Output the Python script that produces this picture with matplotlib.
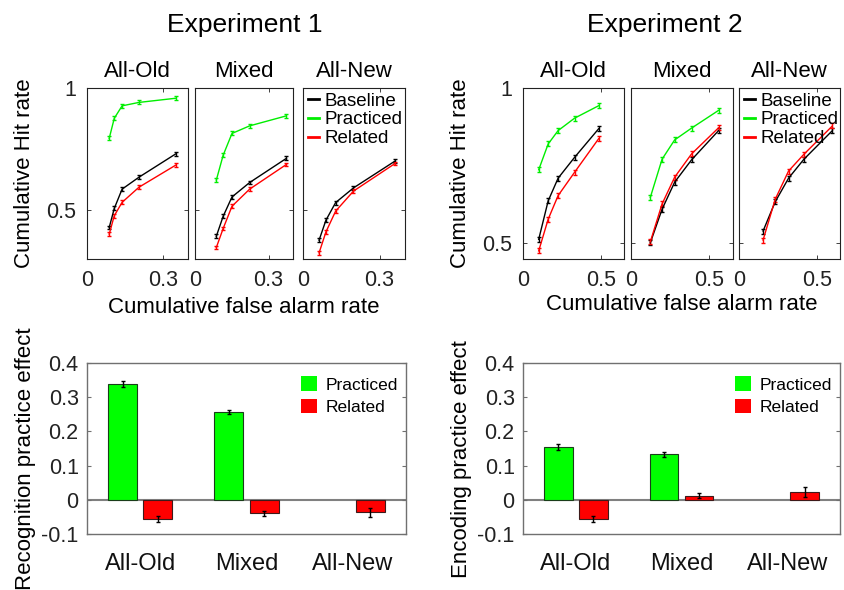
import numpy as np
import matplotlib.pyplot as plt
from matplotlib.patches import Patch
from matplotlib.lines import Line2D

plt.rcParams['font.family'] = ['Liberation Sans', 'DejaVu Sans']

W, H = 844, 590

conds = ['All-Old', 'Mixed', 'All-New']
GREEN = '#00ee00'
RED = '#ff0000'

# ---- Experiment 1 ROC data (cumulative FA, cumulative hit) ----
e1_fa = {
    'All-Old': [0.088, 0.108, 0.139, 0.206, 0.351],
    'Mixed':   [0.087, 0.115, 0.151, 0.223, 0.373],
    'All-New': [0.063, 0.090, 0.128, 0.198, 0.361],
}
e1_base = {
    'All-Old': [0.429, 0.507, 0.586, 0.635, 0.730],
    'Mixed':   [0.393, 0.475, 0.554, 0.613, 0.712],
    'All-New': [0.377, 0.459, 0.531, 0.591, 0.701],
}
e1_prac = {
    'All-Old': [0.794, 0.876, 0.927, 0.941, 0.958],
    'Mixed':   [0.623, 0.725, 0.814, 0.845, 0.886],
}
e1_rel = {
    'All-Old': [0.402, 0.477, 0.532, 0.594, 0.684],
    'Mixed':   [0.347, 0.425, 0.516, 0.586, 0.687],
    'All-New': [0.325, 0.411, 0.496, 0.578, 0.691],
}

# ---- Experiment 2 ROC data ----
e2_fa = {
    'All-Old': [0.101, 0.162, 0.226, 0.332, 0.487],
    'Mixed':   [0.123, 0.198, 0.278, 0.386, 0.558],
    'All-New': [0.155, 0.233, 0.319, 0.418, 0.601],
}
e2_base = {
    'All-Old': [0.513, 0.637, 0.710, 0.777, 0.869],
    'Mixed':   [0.502, 0.610, 0.697, 0.769, 0.863],
    'All-New': [0.540, 0.634, 0.710, 0.771, 0.863],
}
e2_prac = {
    'All-Old': [0.737, 0.820, 0.863, 0.903, 0.943],
    'Mixed':   [0.648, 0.771, 0.833, 0.871, 0.928],
}
e2_rel = {
    'All-Old': [0.476, 0.578, 0.654, 0.729, 0.837],
    'Mixed':   [0.505, 0.627, 0.713, 0.788, 0.872],
    'All-New': [0.511, 0.642, 0.733, 0.787, 0.878],
}
roc_err = 0.008

# ---- practice effects (bars) ----
e1_prac_eff = [0.339, 0.257, np.nan]
e1_prac_se = [0.009, 0.007, 0]
e1_rel_eff = [-0.055, -0.040, -0.037]
e1_rel_se = [0.009, 0.008, 0.014]

e2_prac_eff = [0.155, 0.133, np.nan]
e2_prac_se = [0.009, 0.007, 0]
e2_rel_eff = [-0.055, 0.012, 0.022]
e2_rel_se = [0.009, 0.007, 0.014]

fig = plt.figure(figsize=(W / 100, H / 100), dpi=100)


def px_axes(x0, x1, y0, y1):
    return fig.add_axes([x0 / W, 1 - y1 / H, (x1 - x0) / W, (y1 - y0) / H])


def style_roc(ax):
    for s in ax.spines.values():
        s.set_color('#222222')
        s.set_linewidth(0.8)
    ax.tick_params(direction='in', length=3, width=0.6, top=True, right=True,
                   labelsize=15.5, colors='#222222', pad=8)


def roc_panels(xs, fa, base, prac, rel, xlim, xt, ylim, yt, ylabs):
    axes = []
    for i, c in enumerate(conds):
        ax = px_axes(xs[i][0], xs[i][1], 88, 259)
        ax.errorbar(fa[c], base[c], yerr=roc_err, color='k', lw=1, capsize=1.5,
                    elinewidth=1, capthick=1)
        if c in prac:
            ax.errorbar(fa[c], prac[c], yerr=roc_err, color=GREEN, lw=1, capsize=1.5,
                        elinewidth=1, capthick=1)
        ax.errorbar(fa[c], rel[c], yerr=roc_err, color=RED, lw=1, capsize=1.5,
                    elinewidth=1, capthick=1)
        ax.set_xlim(xlim)
        ax.set_ylim(ylim)
        ax.set_xticks(xt)
        ax.set_xticklabels(['0', str(xt[1])])
        ax.set_yticks(yt)
        if i == 0:
            ax.set_yticklabels(ylabs)
        else:
            ax.set_yticklabels([])
        ax.set_title(c, fontsize=16, pad=8)
        style_roc(ax)
        axes.append(ax)
    handles = [Line2D([], [], color='k', lw=2), Line2D([], [], color=GREEN, lw=2),
               Line2D([], [], color=RED, lw=2)]
    axes[2].legend(handles, ['Baseline', 'Practiced', 'Related'], loc='upper left',
                   frameon=False, fontsize=13.5, handlelength=0.6, handletextpad=0.3,
                   borderaxespad=0.1, labelspacing=0.08, borderpad=0.15)
    return axes


a1 = roc_panels([(87, 188), (195, 293), (303, 405)], e1_fa, e1_base, e1_prac, e1_rel,
                (0, 0.4), [0, 0.3], (0.3, 1.0), [0.5, 1.0], ['0.5', '1'])
a1[0].set_ylabel('Cumulative Hit rate', fontsize=16, labelpad=8)
a1[1].set_xlabel('Cumulative false alarm rate', fontsize=16, labelpad=4)

a2 = roc_panels([(523, 624), (631, 733), (739, 840)], e2_fa, e2_base, e2_prac, e2_rel,
                (0, 0.65), [0, 0.5], (0.45, 1.0), [0.5, 1.0], ['0.5', '1'])
a2[0].set_ylabel('Cumulative Hit rate', fontsize=16, labelpad=8)
a2[1].set_xlabel('Cumulative false alarm rate', fontsize=16, labelpad=2)

fig.text(245 / W, 1 - 25 / H, 'Experiment 1', fontsize=19, ha='center', va='center')
fig.text(665 / W, 1 - 25 / H, 'Experiment 2', fontsize=19, ha='center', va='center')


def bar_panel(x0, x1, prac, prac_se, rel, rel_se, ylabel, label_x):
    ax = px_axes(x0, x1, 363, 534)
    pos = np.arange(1, 4)
    off, bw = 0.166, 0.27
    ax.axhline(0, color='#808080', lw=1.5, zorder=1)
    ax.bar(pos - off, prac, bw, color='#00ff00', edgecolor='#1a3d1a', lw=0.8, zorder=2)
    ax.bar(pos + off, rel, bw, color=RED, edgecolor='#3d1a1a', lw=0.8, zorder=2)
    ok = ~np.isnan(prac)
    ax.errorbar((pos - off)[ok], np.array(prac)[ok], yerr=np.array(prac_se)[ok],
                fmt='none', ecolor='k', elinewidth=1, capsize=1.5, capthick=1, zorder=3)
    ax.errorbar(pos + off, rel, yerr=rel_se, fmt='none', ecolor='k', elinewidth=1,
                capsize=1.5, capthick=1, zorder=3)
    ax.set_xlim(0.5, 3.5)
    ax.set_ylim(-0.1, 0.4)
    ax.set_xticks(pos)
    ax.set_xticklabels(conds)
    ax.set_yticks([-0.1, 0, 0.1, 0.2, 0.3, 0.4])
    ax.set_yticklabels(['-0.1', '0', '0.1', '0.2', '0.3', '0.4'])
    for s in ax.spines.values():
        s.set_color('#707070')
        s.set_linewidth(1.0)
    ax.tick_params(axis='y', direction='in', length=3, right=True, labelsize=15.5,
                   colors='#707070', labelcolor='#222222', pad=6)
    ax.tick_params(axis='x', length=0, labelsize=17, labelcolor='#111111', pad=14)
    ax.set_ylabel(ylabel, fontsize=16)
    px_w = x1 - x0
    # label sits a bit below the axes centre in the original
    ax.yaxis.set_label_coords((label_x - x0) / px_w, 0.44)
    handles = [Patch(facecolor='#00ff00', edgecolor='none'), Patch(facecolor=RED, edgecolor='none')]
    ax.legend(handles, ['Practiced', 'Related'], loc='upper left',
              bbox_to_anchor=((px_w - 108) / px_w, 1 - 10 / 171), frameon=False,
              fontsize=12.5, handlelength=0.9, handleheight=0.9, handletextpad=0.5,
              labelspacing=0.35, borderaxespad=0, borderpad=0.2)
    return ax


bar_panel(87, 406, e1_prac_eff, e1_prac_se, e1_rel_eff, e1_rel_se,
          'Recognition practice effect', 36)
bar_panel(523, 840, e2_prac_eff, e2_prac_se, e2_rel_eff, e2_rel_se,
          'Encoding practice effect', 472)

fig.savefig('out.png', dpi=100)
